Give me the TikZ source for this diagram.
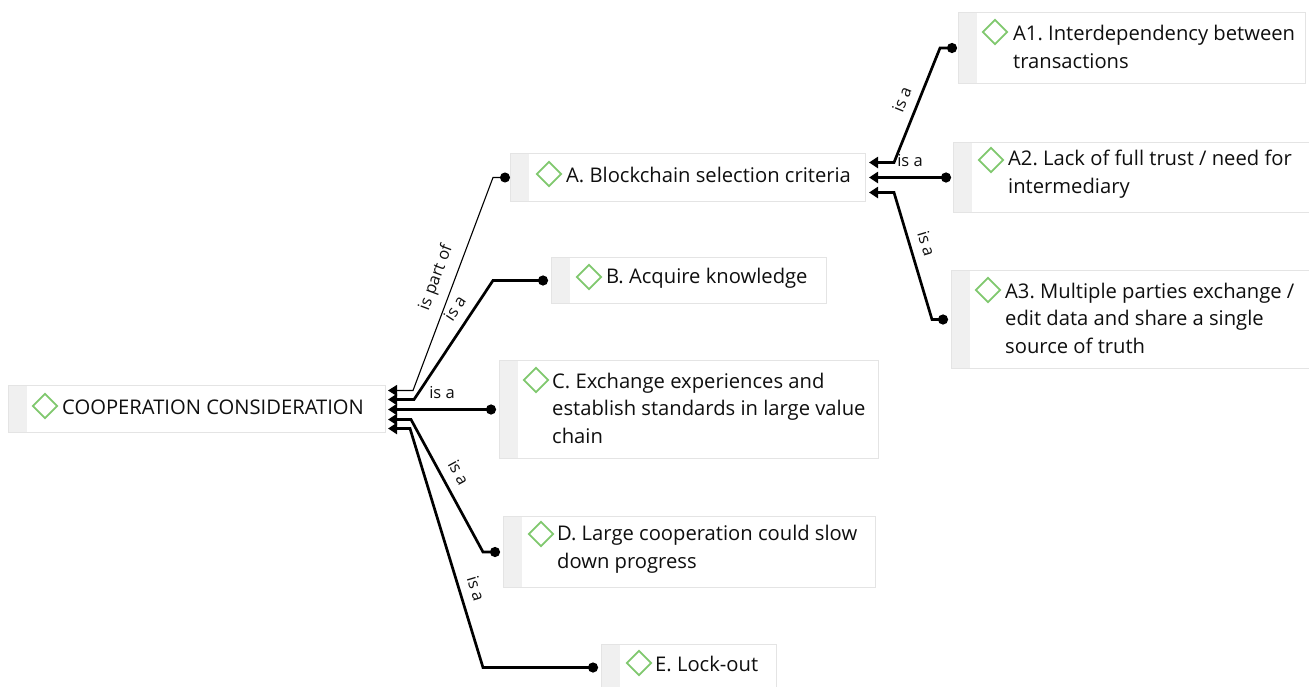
\documentclass[tikz,border=0pt]{standalone}
\usepackage{fontspec}
\setmainfont{Open Sans}
\usetikzlibrary{arrows.meta,shapes.geometric,calc}
\frenchspacing

\definecolor{edgegray}{RGB}{228,228,228}
\definecolor{stripgray}{RGB}{240,240,240}
\definecolor{gemgreen}{RGB}{128,200,110}
\definecolor{ink}{RGB}{15,15,15}

\tikzset{
  concept/.style={draw=edgegray, line width=1pt, fill=white, anchor=north west,
    inner sep=0pt,
    path picture={\fill[stripgray] (path picture bounding box.north west)
      rectangle ([xshift=18.5pt]path picture bounding box.south west);}},
  gem/.style={diamond, draw=gemgreen, line width=1.8pt, inner sep=0pt,
    minimum width=25pt, minimum height=25pt},
  txt/.style={anchor=west, align=left, inner sep=0pt, text=ink,
    font=\fontsize{20.2}{27.5}\selectfont},
  lab/.style={anchor=south, inner xsep=0pt, inner ysep=9pt, text=ink,
    font=\fontsize{16.5}{18}\selectfont},
  link/.style={draw=black, line width=2.7pt,
    {Triangle[length=9pt,width=11pt]}-{Circle[length=10pt]}},
  thinlink/.style={draw=black, line width=1.1pt,
    {Triangle[length=9pt,width=11pt]}-{Circle[length=10pt]}}
}

\begin{document}
\begin{tikzpicture}[x=1pt,y=-1pt]
\useasboundingbox (0,0) rectangle (1309,686);

% concept boxes
\node[concept, minimum width=377pt, minimum height=47pt] (root) at (8,385) {};
\node[concept, minimum width=355pt, minimum height=48pt] (a) at (510,153) {};
\node[concept, minimum width=275pt, minimum height=46pt] (b) at (551,257) {};
\node[concept, minimum width=379pt, minimum height=98pt] (c) at (499,360) {};
\node[concept, minimum width=372pt, minimum height=71pt] (d) at (503,516) {};
\node[concept, minimum width=175pt, minimum height=46pt] (e) at (601,644) {};
\node[concept, minimum width=347pt, minimum height=71pt] (a1) at (958,12) {};
\node[concept, minimum width=356pt, minimum height=70pt] (a2) at (953,142) {};
\node[concept, minimum width=358pt, minimum height=98pt] (a3) at (951,270) {};

% green markers
\node[gem] (root-g) at (45,406) {};
\node[gem] (a-g) at (549,174) {};
\node[gem] (b-g) at (589,277) {};
\node[gem] (c-g) at (536,380) {};
\node[gem] (d-g) at (541,534) {};
\node[gem] (e-g) at (639,663) {};
\node[gem] (a1-g) at (995,32) {};
\node[gem] (a2-g) at (991,160) {};
\node[gem] (a3-g) at (988,290) {};

% texts
\node[txt] (root-t) at (62,407) {COOPERATION CONSIDERATION};
\node[txt] (a-t) at (566,175) {A. Blockchain selection criteria};
\node[txt] (b-t) at (606,278) {B. Acquire knowledge};
\node[txt] (c-t) at (552,408) {C. Exchange experiences and\\establish standards in large value\\chain};
\node[txt] (d-t) at (557,549) {D. Large cooperation could slow\\down progress};
\node[txt] (e-t) at (655,664) {E. Lock-out};
\node[txt] (a1-t) at (1013,47) {A1. Interdependency between\\transactions};
\node[txt] (a2-t) at (1008,174) {A2. Lack of full trust / need for\\intermediary};
\node[txt] (a3-t) at (1005,318) {A3. Multiple parties exchange /\\edit data and share a single\\source of truth};

% links from the root concept
\draw[thinlink] ($(root.east)+(2,-18.5)$) -- ++(25,0)
  -- node[pos=0.5, sloped, lab] {is part of} ($(a.west)+(-17,0)$) -- ($(a.west)+(0,0)$);
\draw[link] ($(root.east)+(2,-9.5)$) -- ++(26,0)
  -- node[pos=0.69, sloped, lab] {is a} ($(b.west)+(-58,0)$) -- ($(b.west)+(-3,0)$);
\draw[link] ($(root.east)+(2,0.5)$)
  -- node[pos=0.5, lab] {is a} ($(c.west)+(-3,0)$);
\draw[link] ($(root.east)+(2,10.5)$) -- ++(23,0)
  -- node[pos=0.46, sloped, lab] {is a} ($(d.west)+(-20,0)$) -- ($(d.west)+(-3,0)$);
\draw[link] ($(root.east)+(2,19.5)$) -- ++(22,0)
  -- node[pos=0.69, sloped, lab] {is a} ($(e.west)+(-118,0)$) -- ($(e.west)+(-3,0)$);

% links from A
\draw[link] ($(a.east)+(3,-15)$) -- ++(25,0)
  -- node[pos=0.5, sloped, lab] {is a} ($(a1.west)+(-18,0)$) -- ($(a1.west)+(-1,0)$);
\draw[link] ($(a.east)+(3,0)$)
  -- node[pos=0.5, lab] {is a} ($(a2.west)+(-2,0)$);
\draw[link] ($(a.east)+(3,15)$) -- ++(25,0)
  -- node[pos=0.44, sloped, lab] {is a} ($(a3.west)+(-19,0)$) -- ($(a3.west)+(-3,0)$);
\end{tikzpicture}
\end{document}
